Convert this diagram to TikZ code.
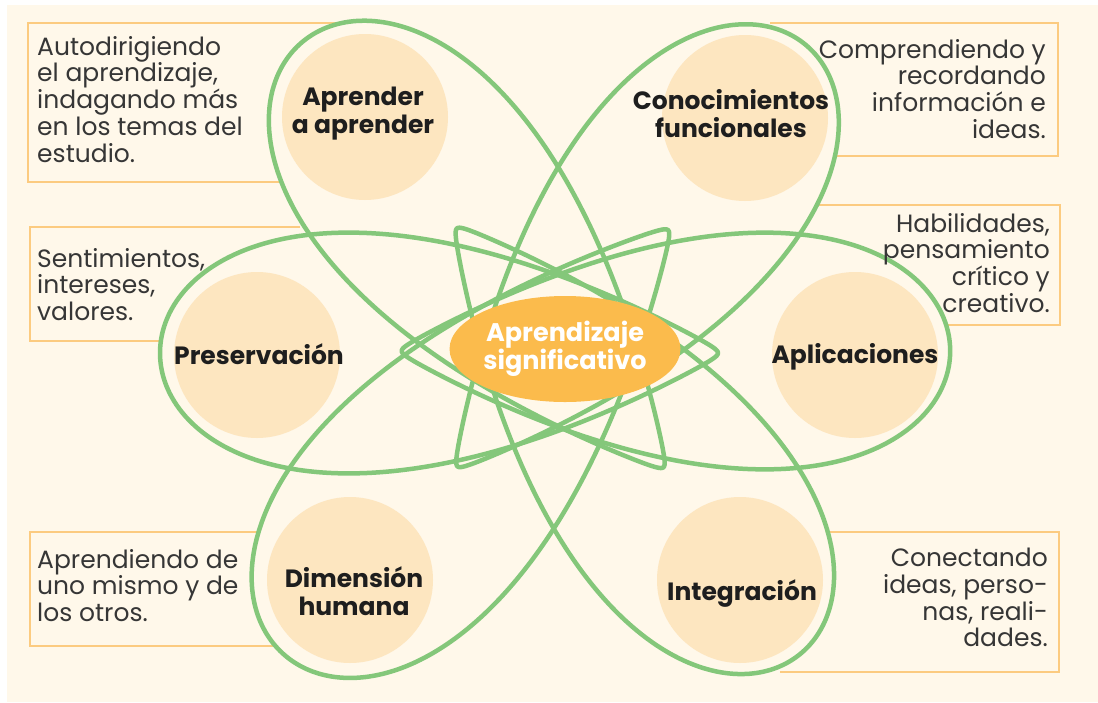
\documentclass[tikz,border=0pt]{standalone}
\usepackage{fontspec}
\setmainfont{Poppins}
\usetikzlibrary{shapes.geometric}
\definecolor{bgc}{HTML}{FFF8EA}
\definecolor{lgreen}{HTML}{84C77A}
\definecolor{peach}{HTML}{FDE6C0}
\definecolor{coreorange}{HTML}{FBBB4C}
\definecolor{boxc}{HTML}{FCCB80}
\definecolor{desctext}{HTML}{363636}
\definecolor{lbltext}{HTML}{1E1E1E}
\newcommand{\lpetalpath}[4]{%
  \path[#4, shift={#1}, rotate=#2, scale=#3]
    plot[smooth cycle, domain=0:357.5, samples=144, variable=\t]
    ({121-279*cos(\t)}, {153*sin(\t)*sqrt(pow(sin(\t/2),2)+0.03)});%
}
\newcommand{\allpetals}[1]{%
  \lpetalpath{(561,347)}{130.4}{1.0}{#1}
  \lpetalpath{(556,347)}{50.5}{0.98}{#1}
  \lpetalpath{(560,353)}{180}{1.0}{#1}
  \lpetalpath{(557,351)}{0}{0.983}{#1}
  \lpetalpath{(559,350)}{227.7}{1.026}{#1}
  \lpetalpath{(554,349)}{308.8}{0.98}{#1}
}
\begin{document}
\begin{tikzpicture}[x=1pt,y=-1pt,
  loopfill/.style={fill=bgc},
  loopline/.style={draw=lgreen, line width=4.5pt, line join=round},
  bubble/.style={circle, fill=peach, minimum size=166pt, inner sep=0pt},
  lbl/.style={font=\bfseries\fontsize{25}{28}\selectfont, text=lbltext, align=center, inner sep=0pt},
  desc/.style={font=\fontsize{25}{26.7}\selectfont, text=desctext, inner sep=0pt},
  boxline/.style={draw=boxc, line width=1.5pt},
  core/.style={ellipse, fill=coreorange, minimum width=204pt, minimum height=106pt, inner sep=0pt,
    font=\bfseries\fontsize{25.5}{25}\selectfont, text=white, align=center}]
\useasboundingbox (0,0) rectangle (1098,702);
\fill[white] (0,0) rectangle (1098,702);
\fill[bgc] (7,5) rectangle (1098,702);
% box borders
\draw[boxline] (340,23) -| (28,182) -- (285,182);
\draw[boxline] (300,227) -| (30,341) -- (175,341);
\draw[boxline] (280,532) -| (30,646) -- (290,646);
\draw[boxline] (770,23) -| (1058,156) -- (825,156);
\draw[boxline] (805,205) -| (1060,325) -- (925,325);
\draw[boxline] (815,532) -| (1059,672) -- (780,672);
% petals
\allpetals{loopfill}
\allpetals{loopline}
% bubbles
\node[bubble] (b-apr) at (365,117) {};
\node[bubble] (b-con) at (745,118) {};
\node[bubble] (b-pre) at (257,355) {};
\node[bubble] (b-apl) at (855,355) {};
\node[bubble] (b-dim) at (350,580) {};
\node[bubble] (b-int) at (740,580) {};
\node[lbl] (l-apr) at (363,114) {Aprender\\a aprender};
\node[lbl] (l-con) at (731,114) {Conocimientos\\funcionales};
\node[lbl] (l-pre) at (259,354) {Preservación};
\node[lbl] (l-apl) at (855,357) {Aplicaciones};
\node[lbl] (l-dim) at (354,591) {Dimensión\\humana};
\node[lbl] (l-int) at (742,594) {Integración};
% core
\node[core] (core) at (565,349) {Aprendizaje\\significativo};
% descriptions
\node[desc, anchor=north west, align=left] (d1) at (37,36) {Autodirigiendo\\el aprendizaje,\\indagando más\\en los temas del\\estudio.};
\node[desc, anchor=north east, align=right] (d2) at (1046,39) {Comprendiendo y\\recordando\\información e\\ideas.};
\node[desc, anchor=north west, align=left] (d3) at (37,248) {Sentimientos,\\intereses,\\valores.};
\node[desc, anchor=north east, align=right] (d4) at (1050,213) {Habilidades,\\pensamiento\\crítico y\\creativo.};
\node[desc, anchor=north west, align=left] (d5) at (37,549) {Aprendiendo de\\uno mismo y de\\los otros.};
\node[desc, anchor=north east, align=right] (d6) at (1048,548) {Conectando\\ideas, perso-\\nas, reali-\\dades.};
\end{tikzpicture}
\end{document}
